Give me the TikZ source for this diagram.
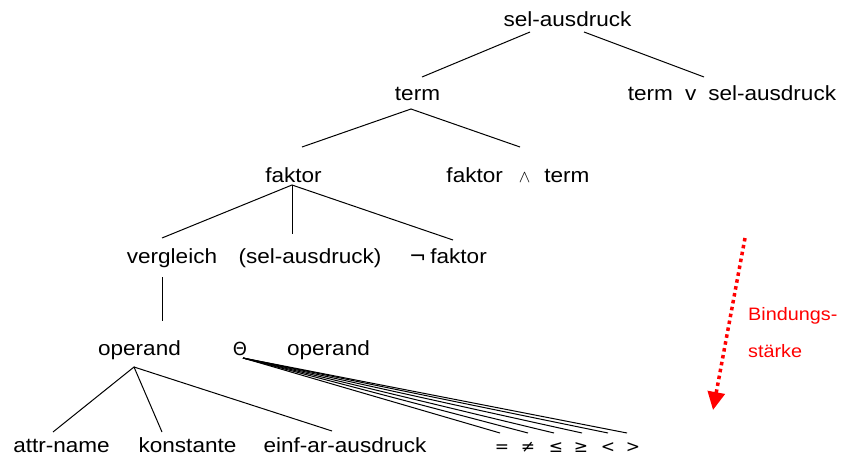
\documentclass[tikz,border=0pt]{standalone}
\usepackage{fontspec}
\setmainfont{Liberation Sans}[FakeStretch=1.1]
\newfontfamily\symfont{DejaVu Sans}
\usetikzlibrary{arrows.meta}

\begin{document}
\begin{tikzpicture}[x=1pt,y=-1pt,
    lbl/.style={inner sep=0pt,anchor=base,font=\fontsize{20.5}{24}\selectfont},
    rel/.style={inner sep=0pt,anchor=base,font=\symfont\fontsize{17}{20}\selectfont},
    edge/.style={line width=1pt}]
\useasboundingbox (0,0) rectangle (843,460);

% Ebene 1 und 2
\node[lbl] (sel) at (567.5,27) {sel-ausdruck};
\node[lbl] (term) at (417.5,100) {term};
\node[lbl] (termor) at (732,100) {term\hspace{12pt}v\hspace{12pt}sel-ausdruck};

% Ebene 3
\node[lbl] (faktor) at (293.5,182) {faktor};
\node[lbl] (faktorand) at (518,182) {faktor\hspace{16pt}{\fontsize{17}{20}\selectfont$\wedge$}\hspace{14pt}term};

% Ebene 4
\node[lbl] (vergleich) at (172,263) {vergleich};
\node[lbl] (klammer) at (310,263) {(sel-ausdruck)};
\node[lbl] (nicht) at (448,263) {{\symfont ¬}\hspace{4pt}faktor};

% Ebene 5
\node[lbl] (operand) at (139.5,355) {operand};
\node[lbl] (theta) at (240,355) {{\symfont\fontsize{18}{20}\selectfont Θ}};
\node[lbl] (operandb) at (328.5,355) {operand};

% Blaetter
\node[lbl] (attr) at (61.5,452) {attr-name};
\node[lbl] (konst) at (187.5,452) {konstante};
\node[lbl] (einf) at (345,452) {einf-ar-ausdruck};
\node[rel] (eq) at (502,452) {=};
\node[rel] (neq) at (528,452) {≠};
\node[rel] (le) at (556,452) {≤};
\node[rel] (ge) at (581,452) {≥};
\node[rel] (lt) at (608,452) {<};
\node[rel] (gt) at (633,452) {>};

\draw[edge] ([shift={(-37.5,5)}]sel.base) -- ([shift={(4.5,-23)}]term.base);
\draw[edge] ([shift={(16.5,5)}]sel.base) -- ([shift={(-28,-23)}]termor.base);
\draw[edge] ([shift={(8.5,-35)}]faktor.base) -- ([shift={(-6.5,9)}]term.base) -- ([shift={(2,-35)}]faktorand.base);
\draw[edge] ([shift={(-10,-25)}]vergleich.base) -- ([shift={(-1.5,3)}]faktor.base) -- ([shift={(5,-23)}]nicht.base);
\draw[edge] ([shift={(-1.5,3)}]faktor.base) -- ([shift={(-18,-29)}]klammer.base);
\draw[edge] ([shift={(-10,14)}]vergleich.base) -- ([shift={(22.5,-34)}]operand.base);
\draw[edge] ([shift={(-8.5,-20)}]attr.base) -- ([shift={(-5.5,12)}]operand.base) -- ([shift={(-25.5,-20)}]konst.base);
\draw[edge] ([shift={(-5.5,12)}]operand.base) -- ([shift={(-13,-21)}]einf.base);
\foreach \r/\dx in {eq/-2,neq/0,le/-2,ge/1,lt/0,gt/-6}
  \draw[edge] ([shift={(3,3)}]theta.base) -- ([shift={(\dx,-19)}]\r.base);

% Bindungsstaerke
\coordinate (pfeilA) at (745,238);
\coordinate (pfeilB) at (713,410);
\draw[red,line width=3.5pt,dash pattern=on 3.5pt off 3.5pt,-{Triangle[length=18pt,width=17pt]}] (pfeilA) -- (pfeilB);
\node[lbl,anchor=base west,text=red,font=\fontsize{18}{21}\selectfont] (bind) at (748,320) {Bindungs-};
\node[lbl,anchor=base west,text=red,font=\fontsize{18}{21}\selectfont] (staerke) at (748,357) {stärke};
\end{tikzpicture}
\end{document}
